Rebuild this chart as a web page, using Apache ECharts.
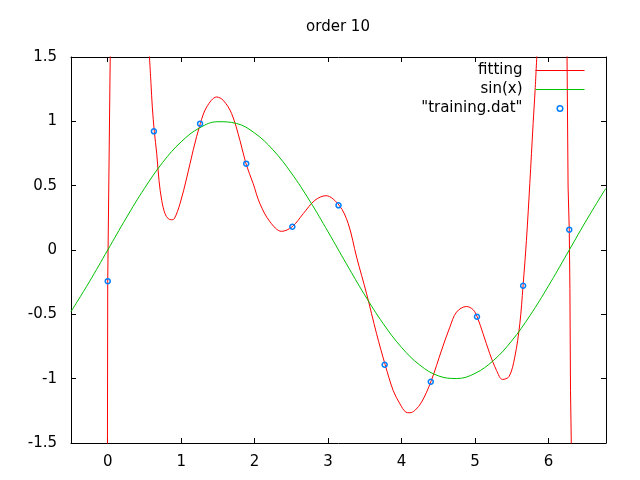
<!DOCTYPE html>
<html>
<head>
<meta charset="utf-8">
<script src="https://cdn.jsdelivr.net/npm/echarts@6/dist/echarts.min.js"></script>
<style>html,body{margin:0;padding:0;background:#fff}#c{width:640px;height:480px}</style>
</head>
<body>
<div id="c"></div>
<script>
// ---- data ----
const titleText = "order 10";
const yTicks = [-1.5, -1, -0.5, 0, 0.5, 1, 1.5];

// fitted polynomial, left steep branch near x=0
const fitLeftX = [-0.004, 0, 0.035];
const fitLeftY = [-1.55, -0.242, 1.55];
// fitted polynomial, main visible part
const fitMainX = [0.563, 0.589, 0.607, 0.634, 0.667, 0.698, 0.735, 0.78, 0.825, 0.866, 0.906, 0.984, 1.075, 1.165, 1.26, 1.347, 1.483, 1.573, 1.687, 1.80, 1.882, 1.98, 2.072, 2.208, 2.367, 2.512, 2.661, 2.82, 2.97, 3.151, 3.274, 3.388, 3.524, 3.66, 3.777, 3.886, 3.977, 4.059, 4.113, 4.181, 4.272, 4.399, 4.55, 4.657, 4.748, 4.884, 4.974, 5.029, 5.11, 5.201, 5.293, 5.374, 5.464, 5.541, 5.61, 5.654, 5.70, 5.746, 5.791, 5.818, 5.845];
const fitMainY = [1.55, 1.293, 1.111, 0.922, 0.749, 0.541, 0.386, 0.282, 0.243, 0.235, 0.243, 0.36, 0.56, 0.78, 0.982, 1.111, 1.189, 1.163, 1.06, 0.852, 0.671, 0.516, 0.36, 0.22, 0.145, 0.181, 0.282, 0.386, 0.422, 0.347, 0.205, -0.055, -0.34, -0.651, -0.892, -1.092, -1.195, -1.26, -1.265, -1.247, -1.183, -1.024, -0.77, -0.6, -0.483, -0.439, -0.464, -0.519, -0.651, -0.806, -0.936, -1.006, -0.983, -0.833, -0.573, -0.278, 0.075, 0.516, 0.982, 1.241, 1.55];
// fitted polynomial, right steep branch near x=2*pi
const fitRightX = [6.252, 6.267, 6.283, 6.292, 6.30, 6.312];
const fitRightY = [1.55, 0.49, 0.158, -0.3, -1.09, -1.55];

// sin(x) curve values
const sinX = [-0.5, -0.25, 0, 0.25, 0.5, 0.75, 1, 1.25, 1.5, 1.75, 2, 2.25, 2.5, 2.75, 3, 3.25, 3.5, 3.75, 4, 4.25, 4.5, 4.75, 5, 5.25, 5.5, 5.75, 6, 6.25, 6.5, 6.75, 6.783];
const sinY = [-0.479, -0.247, 0, 0.247, 0.479, 0.682, 0.841, 0.949, 0.997, 0.984, 0.909, 0.778, 0.598, 0.382, 0.141, -0.108, -0.351, -0.572, -0.757, -0.895, -0.978, -0.999, -0.959, -0.859, -0.706, -0.508, -0.279, -0.033, 0.215, 0.451, 0.479];

// "training.dat" points
const trainX = [0, 0.628, 1.257, 1.885, 2.513, 3.142, 3.770, 4.398, 5.027, 5.655, 6.283];
const trainY = [-0.242, 0.922, 0.982, 0.671, 0.181, 0.347, -0.892, -1.024, -0.519, -0.278, 0.158];

const xMin = -0.5, xMax = 6.7832;

// ---- build ----
const zip = (xs, ys) => xs.map((x, i) => [x, ys[i]]);
const FONT = "DejaVu Sans";
const RED = "#ff0000", GREEN = "#00c000", BLUE = "#0080ff";

const axisCommon = {
  axisLine: { show: true, onZero: false, lineStyle: { color: "#000", width: 1 } },
  axisTick: { show: true, inside: true, length: 5, lineStyle: { color: "#000", width: 1 } },
  splitLine: { show: false }
};

const chart = echarts.init(document.getElementById("c"), null, { renderer: "canvas" });
chart.setOption({
  animation: false,
  backgroundColor: "#fff",
  title: {
    text: titleText, left: 338, top: 20, textAlign: "center", padding: 0,
    textStyle: { fontFamily: FONT, fontSize: 15, fontWeight: "normal", color: "#000" }
  },
  legend: {
    orient: "vertical", right: 55, top: 63, padding: 0, align: "right",
    itemWidth: 49, itemHeight: 7, itemGap: 4,
    textStyle: { fontFamily: FONT, fontSize: 15, color: "#000", lineHeight: 15, padding: [0, 8, 0, 0] },
    data: [
      { name: "fitting", lineStyle: { width: 1 }, itemStyle: { color: "rgba(0,0,0,0)", borderColor: "rgba(0,0,0,0)" } },
      { name: "sin(x)", lineStyle: { width: 1 }, itemStyle: { color: "rgba(0,0,0,0)", borderColor: "rgba(0,0,0,0)" } },
      { name: "\"training.dat\"", lineStyle: { opacity: 0 }, itemStyle: { color: "rgba(0,0,0,0)", borderColor: BLUE, borderWidth: 1.5 } }
    ]
  },
  grid: { left: 71, right: 34, top: 57, bottom: 37, containLabel: false },
  xAxis: [
    Object.assign({}, axisCommon, {
      type: "value", position: "bottom", min: xMin, max: xMax, splitNumber: 7,
      axisLabel: { show: true, margin: 12, showMinLabel: false, showMaxLabel: false, fontFamily: FONT, fontSize: 15, color: "#000" }
    }),
    Object.assign({}, axisCommon, {
      type: "value", position: "top", min: xMin, max: xMax, splitNumber: 7,
      axisLabel: { show: false }
    })
  ],
  yAxis: [
    Object.assign({}, axisCommon, {
      type: "value", position: "left", min: yTicks[0], max: yTicks[yTicks.length - 1], interval: 0.5,
      axisLabel: { show: true, margin: 14, fontFamily: FONT, fontSize: 15, color: "#000" }
    }),
    Object.assign({}, axisCommon, {
      type: "value", position: "right", min: yTicks[0], max: yTicks[yTicks.length - 1], interval: 0.5,
      axisLabel: { show: false }
    })
  ],
  series: [
    { name: "fitting", type: "line", xAxisIndex: 0, yAxisIndex: 0, data: zip(fitLeftX, fitLeftY),
      symbol: "none", smooth: false, clip: true, color: RED, lineStyle: { color: RED, width: 1 } },
    { name: "fitting", type: "line", xAxisIndex: 0, yAxisIndex: 0, data: zip(fitMainX, fitMainY),
      symbol: "none", smooth: 0.35, clip: true, color: RED, lineStyle: { color: RED, width: 1 } },
    { name: "fitting", type: "line", xAxisIndex: 0, yAxisIndex: 0, data: zip(fitRightX, fitRightY),
      symbol: "none", smooth: false, clip: true, color: RED, lineStyle: { color: RED, width: 1 } },
    { name: "sin(x)", type: "line", xAxisIndex: 0, yAxisIndex: 0, data: zip(sinX, sinY),
      symbol: "none", smooth: 0.4, clip: true, color: GREEN, lineStyle: { color: GREEN, width: 1 } },
    { name: "\"training.dat\"", type: "line", xAxisIndex: 0, yAxisIndex: 0, data: zip(trainX, trainY),
      symbol: "circle", symbolSize: 5, showSymbol: true, clip: true, color: BLUE,
      lineStyle: { width: 0, opacity: 0 },
      itemStyle: { color: "rgba(0,0,0,0)", borderColor: BLUE, borderWidth: 1.5 } }
  ]
});
</script>
</body>
</html>
